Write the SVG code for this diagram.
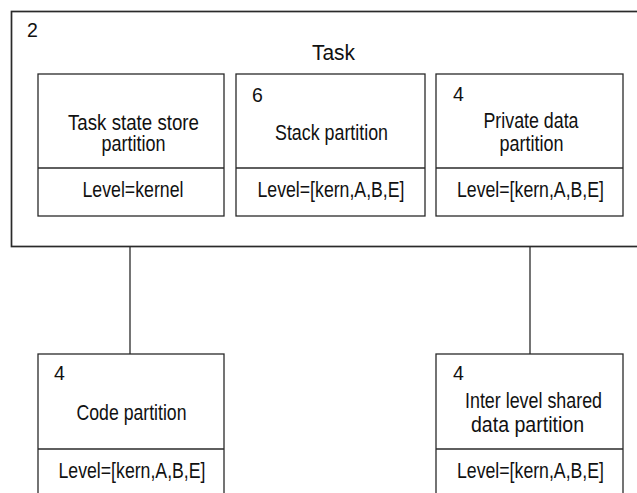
<svg xmlns="http://www.w3.org/2000/svg" width="637" height="493" viewBox="0 0 637 493">
  <style>
    .box { fill: #fff; stroke: #2a2a2a; stroke-width: 1.3; }
    .outer { fill: #fff; stroke: #2a2a2a; stroke-width: 1.7; }
    .div { stroke: #2a2a2a; stroke-width: 1.3; }
    .wire { stroke: #2a2a2a; stroke-width: 1.3; fill: none; }
    text { font-family: "Liberation Sans", Arial, sans-serif; font-size: 21.5px; fill: #111; }
    .c { text-anchor: middle; }
    .n { font-size: 19.5px; }
  </style>

  <!-- Task container -->
  <g id="task">
    <rect class="outer" x="11.5" y="11.5" width="640" height="235"/>
    <text class="n" x="27" y="37">2</text>
    <text class="c" x="333.5" y="60" textLength="43" lengthAdjust="spacingAndGlyphs">Task</text>
  </g>

  <!-- Partitions inside the task -->
  <g id="task-state-store">
    <rect class="box" x="38" y="74" width="186" height="142"/>
    <line class="div" x1="38" y1="168" x2="224" y2="168"/>
    <text class="c" x="133.5" y="130" textLength="131" lengthAdjust="spacingAndGlyphs">Task state store</text>
    <text class="c" x="133.5" y="151" textLength="64" lengthAdjust="spacingAndGlyphs">partition</text>
    <text class="c" x="133" y="197" textLength="101" lengthAdjust="spacingAndGlyphs">Level=kernel</text>
  </g>

  <g id="stack">
    <rect class="box" x="236" y="74" width="189" height="142"/>
    <line class="div" x1="236" y1="168" x2="425" y2="168"/>
    <text class="n" x="252" y="102">6</text>
    <text class="c" x="331.5" y="140" textLength="113" lengthAdjust="spacingAndGlyphs">Stack partition</text>
    <text class="c" x="331" y="197" textLength="147" lengthAdjust="spacingAndGlyphs">Level=[kern,A,B,E]</text>
  </g>

  <g id="private-data">
    <rect class="box" x="436" y="74" width="187" height="142"/>
    <line class="div" x1="436" y1="168" x2="623" y2="168"/>
    <text class="n" x="453" y="101">4</text>
    <text class="c" x="531" y="128" textLength="95" lengthAdjust="spacingAndGlyphs">Private data</text>
    <text class="c" x="531.5" y="151" textLength="64" lengthAdjust="spacingAndGlyphs">partition</text>
    <text class="c" x="530.5" y="197" textLength="147" lengthAdjust="spacingAndGlyphs">Level=[kern,A,B,E]</text>
  </g>

  <!-- Links from the task to the shared partitions -->
  <g id="connectors">
    <line class="wire" x1="130" y1="247" x2="130" y2="354"/>
    <line class="wire" x1="530" y1="247" x2="530" y2="354"/>
  </g>

  <g id="code">
    <rect class="box" x="38" y="354" width="186" height="150"/>
    <line class="div" x1="38" y1="449" x2="224" y2="449"/>
    <text class="n" x="54" y="380">4</text>
    <text class="c" x="131.5" y="420" textLength="110" lengthAdjust="spacingAndGlyphs">Code partition</text>
    <text class="c" x="132" y="478" textLength="147" lengthAdjust="spacingAndGlyphs">Level=[kern,A,B,E]</text>
  </g>

  <g id="inter-level-shared">
    <rect class="box" x="436" y="354" width="187" height="150"/>
    <line class="div" x1="436" y1="449" x2="623" y2="449"/>
    <text class="n" x="453" y="380">4</text>
    <text class="c" x="533.5" y="408" textLength="137" lengthAdjust="spacingAndGlyphs">Inter level shared</text>
    <text class="c" x="527.5" y="432" textLength="113" lengthAdjust="spacingAndGlyphs">data partition</text>
    <text class="c" x="530.5" y="478" textLength="147" lengthAdjust="spacingAndGlyphs">Level=[kern,A,B,E]</text>
  </g>
</svg>
